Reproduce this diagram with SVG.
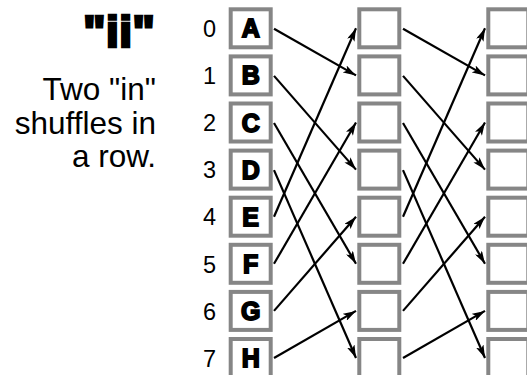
<svg xmlns="http://www.w3.org/2000/svg" width="527" height="375" viewBox="0 0 527 375">
<style>
.box{fill:#fff;stroke:#868686;stroke-width:4}
.let{font-family:"Liberation Sans",Arial,sans-serif;font-weight:bold;font-size:25px;text-anchor:middle;fill:#000;stroke:#000;stroke-width:1.8}
.idx{font-family:"Liberation Sans",Arial,sans-serif;font-size:23.5px;text-anchor:end;fill:#000}
.cap{font-family:"Liberation Sans",Arial,sans-serif;font-size:31.5px;text-anchor:end;fill:#000}
.title{font-family:"Liberation Sans",Arial,sans-serif;font-weight:bold;font-size:45px;text-anchor:end;fill:#000;stroke:#000;stroke-width:2.5}
.arr{stroke:#000;stroke-width:2.2;fill:none;marker-end:url(#ah)}
</style>
<defs>
<marker id="ah" markerUnits="userSpaceOnUse" viewBox="0 0 13 8" refX="13" refY="4" markerWidth="13" markerHeight="8" orient="auto">
<path d="M0,0 L13,4 L0,8 L3,4 z" fill="#000"/>
</marker>
</defs>
<text class="title" x="155" y="47" textLength="72" lengthAdjust="spacingAndGlyphs">"ii"</text>
<text class="cap" x="156" y="100">Two "in"</text>
<text class="cap" x="156" y="134">shuffles in</text>
<text class="cap" x="156" y="167">a row.</text>
<g id="c0r0"><rect class="box" x="230.7" y="9.3" width="40" height="38"/><text class="idx" x="216" y="37">0</text><text class="let" x="250.7" y="37.3">A</text></g>
<g id="c0r1"><rect class="box" x="230.7" y="56.4" width="40" height="38"/><text class="idx" x="216" y="84.1">1</text><text class="let" x="250.7" y="84.4">B</text></g>
<g id="c0r2"><rect class="box" x="230.7" y="103.5" width="40" height="38"/><text class="idx" x="216" y="131.2">2</text><text class="let" x="250.7" y="131.5">C</text></g>
<g id="c0r3"><rect class="box" x="230.7" y="150.6" width="40" height="38"/><text class="idx" x="216" y="178.3">3</text><text class="let" x="250.7" y="178.6">D</text></g>
<g id="c0r4"><rect class="box" x="230.7" y="197.7" width="40" height="38"/><text class="idx" x="216" y="225.4">4</text><text class="let" x="250.7" y="225.7">E</text></g>
<g id="c0r5"><rect class="box" x="230.7" y="244.8" width="40" height="38"/><text class="idx" x="216" y="272.5">5</text><text class="let" x="250.7" y="272.8">F</text></g>
<g id="c0r6"><rect class="box" x="230.7" y="291.9" width="40" height="38"/><text class="idx" x="216" y="319.6">6</text><text class="let" x="250.7" y="319.9">G</text></g>
<g id="c0r7"><rect class="box" x="230.7" y="339" width="40" height="38"/><text class="idx" x="216" y="366.7">7</text><text class="let" x="250.7" y="367">H</text></g>
<g id="c1r0"><rect class="box" x="359.3" y="9.3" width="40" height="38"/></g>
<g id="c1r1"><rect class="box" x="359.3" y="56.4" width="40" height="38"/></g>
<g id="c1r2"><rect class="box" x="359.3" y="103.5" width="40" height="38"/></g>
<g id="c1r3"><rect class="box" x="359.3" y="150.6" width="40" height="38"/></g>
<g id="c1r4"><rect class="box" x="359.3" y="197.7" width="40" height="38"/></g>
<g id="c1r5"><rect class="box" x="359.3" y="244.8" width="40" height="38"/></g>
<g id="c1r6"><rect class="box" x="359.3" y="291.9" width="40" height="38"/></g>
<g id="c1r7"><rect class="box" x="359.3" y="339" width="40" height="38"/></g>
<g id="c2r0"><rect class="box" x="488.3" y="9.3" width="40" height="38"/></g>
<g id="c2r1"><rect class="box" x="488.3" y="56.4" width="40" height="38"/></g>
<g id="c2r2"><rect class="box" x="488.3" y="103.5" width="40" height="38"/></g>
<g id="c2r3"><rect class="box" x="488.3" y="150.6" width="40" height="38"/></g>
<g id="c2r4"><rect class="box" x="488.3" y="197.7" width="40" height="38"/></g>
<g id="c2r5"><rect class="box" x="488.3" y="244.8" width="40" height="38"/></g>
<g id="c2r6"><rect class="box" x="488.3" y="291.9" width="40" height="38"/></g>
<g id="c2r7"><rect class="box" x="488.3" y="339" width="40" height="38"/></g>
<g id="connectors">
<line class="arr" x1="274" y1="28.8" x2="356" y2="75.4"/>
<line class="arr" x1="274" y1="75.9" x2="356" y2="169.6"/>
<line class="arr" x1="274" y1="123" x2="356" y2="263.8"/>
<line class="arr" x1="274" y1="170.1" x2="356" y2="358"/>
<line class="arr" x1="274" y1="216.7" x2="356" y2="28.3"/>
<line class="arr" x1="274" y1="263.8" x2="356" y2="122.5"/>
<line class="arr" x1="274" y1="310.9" x2="356" y2="216.7"/>
<line class="arr" x1="274" y1="358" x2="356" y2="310.9"/>
<line class="arr" x1="403" y1="28.8" x2="485" y2="75.4"/>
<line class="arr" x1="403" y1="75.9" x2="485" y2="169.6"/>
<line class="arr" x1="403" y1="123" x2="485" y2="263.8"/>
<line class="arr" x1="403" y1="170.1" x2="485" y2="358"/>
<line class="arr" x1="403" y1="216.7" x2="485" y2="28.3"/>
<line class="arr" x1="403" y1="263.8" x2="485" y2="122.5"/>
<line class="arr" x1="403" y1="310.9" x2="485" y2="216.7"/>
<line class="arr" x1="403" y1="358" x2="485" y2="310.9"/>
</g>
</svg>
